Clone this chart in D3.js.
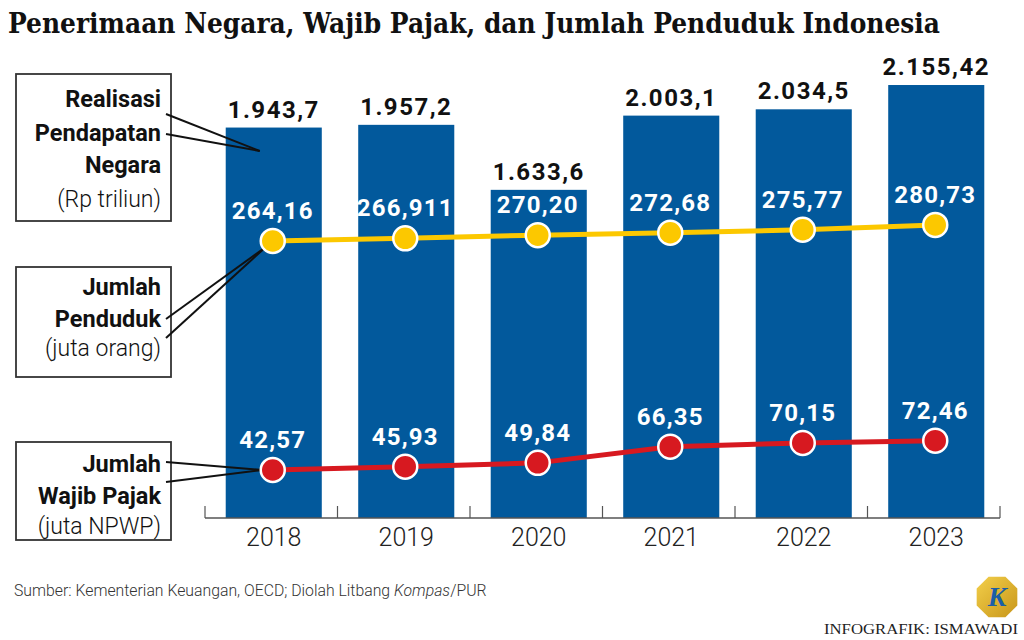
<!DOCTYPE html>
<html><head><meta charset="utf-8">
<script src="https://cdn.jsdelivr.net/npm/d3@7"></script>
<style>
html,body{margin:0;padding:0;background:#fff;}
svg{display:block;}
</style></head>
<body>
<svg id="chart" width="1024" height="640"></svg>
<script>
const years = ["2018","2019","2020","2021","2022","2023"];
const revenue = [1943.7, 1957.2, 1633.6, 2003.1, 2034.5, 2155.42];
const revenueLabels = ["1.943,7","1.957,2","1.633,6","2.003,1","2.034,5","2.155,42"];
const population = [264.16, 266.911, 270.20, 272.68, 275.77, 280.73];
const populationLabels = ["264,16","266,911","270,20","272,68","275,77","280,73"];
const taxpayers = [42.57, 45.93, 49.84, 66.35, 70.15, 72.46];
const taxpayerLabels = ["42,57","45,93","49,84","66,35","70,15","72,46"];

const BLUE = "#02599c", YELLOW = "#fcc800", RED = "#d71920";
const svg = d3.select("#chart");

const x = d3.scaleBand().domain(years).range([207.5, 1002.5]).paddingInner(0.275).paddingOuter(0.1375);
const xAxis = d3.scaleBand().domain(years).range([205, 1000]).padding(0);
const yRev = d3.scaleLinear().domain([0, 2500]).range([518, 15.8]);
const yPop = d3.scaleLinear().domain([260, 290]).range([245.0, 216.0]);
const yTax = d3.scaleLinear().domain([40, 80]).range([472.5, 433.3]);
const cx = d => x(d) + x.bandwidth() / 2 - 1;

// Title
const title = svg.append("text").attr("x", 8).attr("y", 33)
  .style("font-family", "'DejaVu Serif', serif").style("font-weight", "bold")
  .style("font-size", "27px").attr("fill", "#111")
  .text("Penerimaan Negara, Wajib Pajak, dan Jumlah Penduduk Indonesia");
const tw = title.node().getComputedTextLength();
if (tw > 932) title.attr("textLength", 932).attr("lengthAdjust", "spacingAndGlyphs");

// Bars
svg.append("g").selectAll("rect").data(years).join("rect")
  .attr("x", d => x(d)).attr("width", x.bandwidth())
  .attr("y", (d, i) => yRev(revenue[i])).attr("height", (d, i) => yRev(0) - yRev(revenue[i]))
  .attr("fill", BLUE);

svg.append("g").selectAll("text").data(years).join("text")
  .attr("x", d => x(d) + x.bandwidth() / 2).attr("y", (d, i) => yRev(revenue[i]) - 10)
  .attr("text-anchor", "middle")
  .style("font-family", "Roboto, sans-serif").style("font-weight", "bold")
  .style("font-size", "24px").style("letter-spacing", "1.5px").attr("fill", "#111")
  .text((d, i) => revenueLabels[i]);

// Axis
const axisG = svg.append("g").attr("transform", "translate(0,518)");
const bounds = years.map(d => xAxis(d)).concat([xAxis.range()[1]]);
axisG.append("line").attr("x1", xAxis.range()[0]).attr("x2", xAxis.range()[1]).attr("y1", 0).attr("y2", 0)
  .attr("stroke", "#555").attr("stroke-width", 1.5);
axisG.selectAll("line.tick").data(bounds).join("line").attr("class", "tick")
  .attr("x1", d => d).attr("x2", d => d).attr("y1", 0).attr("y2", -12)
  .attr("stroke", "#555").attr("stroke-width", 1.2);
axisG.selectAll("text").data(years).join("text")
  .attr("x", d => x(d) + x.bandwidth() / 2).attr("y", 28).attr("text-anchor", "middle")
  .style("font-family", "Roboto, sans-serif").style("font-weight", 300)
  .style("font-size", "25px").attr("fill", "#222").text(d => d);

// Callout boxes
function box(y0, y1, lines) {
  svg.append("rect").attr("x", 16).attr("y", y0).attr("width", 155).attr("height", y1 - y0)
    .attr("fill", "#fff").attr("stroke", "#333").attr("stroke-width", 1.8);
  lines.forEach(l => {
    svg.append("text").attr("x", 161).attr("y", l.y).attr("text-anchor", "end")
      .style("font-family", "Roboto, sans-serif").style("font-weight", l.bold ? "bold" : 300)
      .style("font-size", l.bold ? "23.5px" : "23px").style("letter-spacing", "0px")
      .attr("fill", "#111").text(l.t);
  });
}
function leader(p1, p2, end) {
  [p1, p2].forEach(p => {
    svg.append("line").attr("x1", p[0]).attr("y1", p[1]).attr("x2", end[0]).attr("y2", end[1])
      .attr("stroke", "#111").attr("stroke-width", 2);
  });
}
box(74, 221, [{t: "Realisasi", y: 107, bold: true}, {t: "Pendapatan", y: 141, bold: true},
  {t: "Negara", y: 173, bold: true}, {t: "(Rp triliun)", y: 207, bold: false}]);
leader([166, 114], [166, 134], [cx("2018") - 13, 151]);
box(267, 377, [{t: "Jumlah", y: 295, bold: true}, {t: "Penduduk", y: 327, bold: true},
  {t: "(juta orang)", y: 356, bold: false}]);
leader([166, 319], [166, 338], [cx("2018") - 7, yPop(population[0]) + 6]);
box(442, 540, [{t: "Jumlah", y: 472, bold: true}, {t: "Wajib Pajak", y: 504, bold: true},
  {t: "(juta NPWP)", y: 534, bold: false}]);
leader([166, 462], [166, 482], [cx("2018") - 10, yTax(taxpayers[0])]);

// Lines
function series(vals, labels, yS, color) {
  const line = d3.line().x((d, i) => cx(years[i])).y(d => yS(d));
  svg.append("path").datum(vals).attr("d", line).attr("fill", "none")
    .attr("stroke", color).attr("stroke-width", 5);
  svg.append("g").selectAll("circle").data(vals).join("circle")
    .attr("cx", (d, i) => cx(years[i])).attr("cy", d => yS(d)).attr("r", 12)
    .attr("fill", color).attr("stroke", "#fff").attr("stroke-width", 2.5);
  svg.append("g").selectAll("text").data(vals).join("text")
    .attr("x", (d, i) => cx(years[i])).attr("y", d => yS(d) - 22)
    .attr("text-anchor", "middle")
    .style("font-family", "Roboto, sans-serif").style("font-weight", "bold")
    .style("font-size", "24px").style("letter-spacing", "1.2px").attr("fill", "#fff")
    .text((d, i) => labels[i]);
}
series(population, populationLabels, yPop, YELLOW);
series(taxpayers, taxpayerLabels, yTax, RED);

// Source
const src = svg.append("text").attr("x", 14).attr("y", 596)
  .style("font-family", "Roboto, sans-serif").style("font-size", "15.8px").style("font-weight", 300)
  .attr("fill", "#333");
src.append("tspan").text("Sumber: Kementerian Keuangan, OECD; Diolah Litbang ");
src.append("tspan").style("font-style", "italic").text("Kompas");
src.append("tspan").text("/PUR");

// Credit
svg.append("text").attr("x", 1018).attr("y", 634).attr("text-anchor", "end")
  .style("font-family", "'Liberation Serif', serif").style("font-size", "15px")
  .attr("fill", "#222").attr("textLength", 194).attr("lengthAdjust", "spacingAndGlyphs")
  .text("INFOGRAFIK: ISMAWADI");

// Logo
const defs = svg.append("defs");
const grad = defs.append("linearGradient").attr("id", "gold").attr("x1", "0").attr("y1", "0").attr("x2", "1").attr("y2", "1");
grad.append("stop").attr("offset", "0%").attr("stop-color", "#f3cf4a");
grad.append("stop").attr("offset", "100%").attr("stop-color", "#c8961a");
const lc = [997, 597], lr = 22;
const oct = d3.range(8).map(i => {
  const a = Math.PI / 8 + i * Math.PI / 4;
  return [lc[0] + lr * Math.cos(a), lc[1] + lr * Math.sin(a)];
});
svg.append("polygon").attr("points", oct.map(p => p.join(",")).join(" ")).attr("fill", "url(#gold)");
svg.append("text").attr("x", lc[0]).attr("y", lc[1] + 9).attr("text-anchor", "middle")
  .style("font-family", "'Liberation Serif', serif").style("font-style", "italic").style("font-weight", "bold")
  .style("font-size", "28px").attr("fill", "#1b5ea6").text("K");
</script>
</body></html>
